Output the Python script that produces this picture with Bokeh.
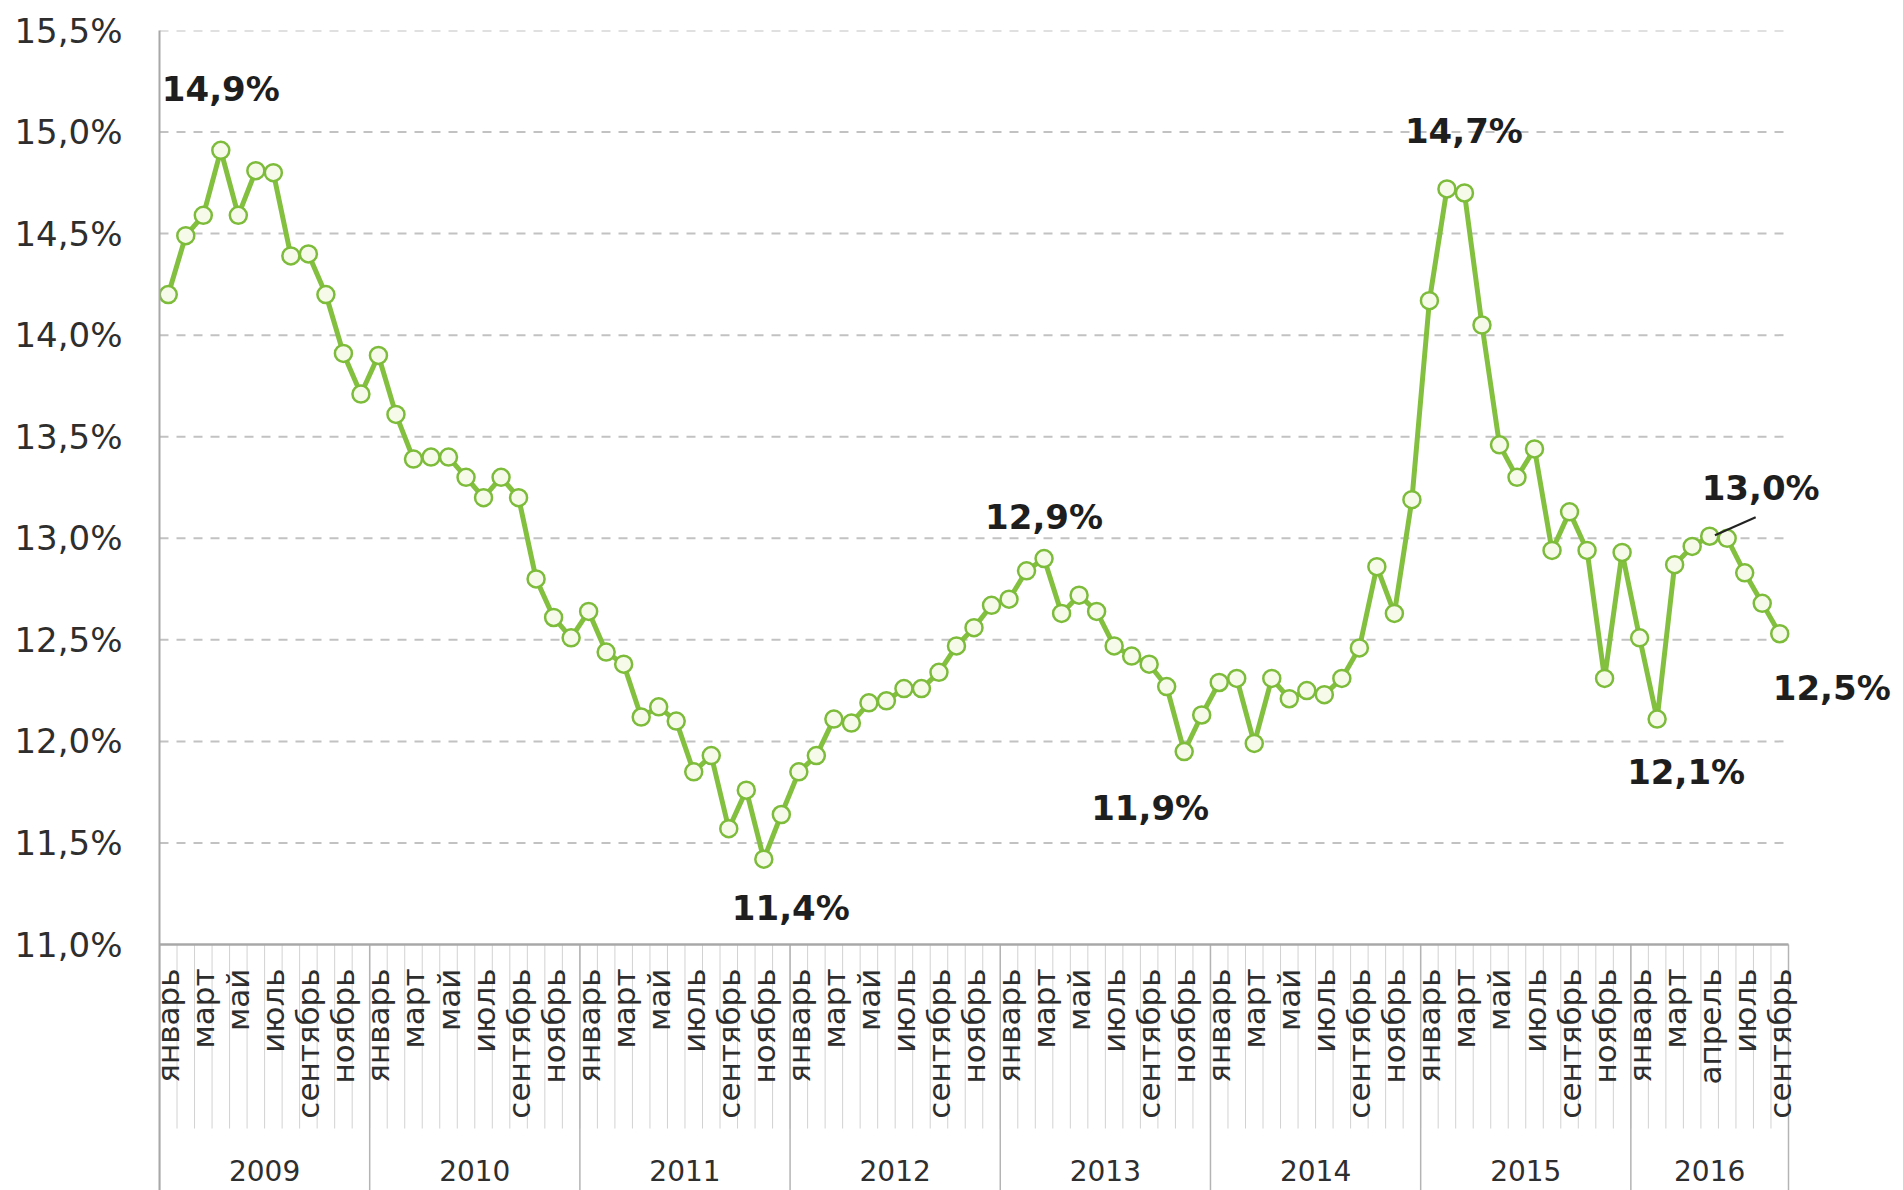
import math
from bokeh.plotting import figure
from bokeh.models import Range1d, FixedTicker, CustomJSTickFormatter, Label
from bokeh.core.properties import value
from bokeh.embed import file_html
from bokeh.resources import INLINE

# ---------------- data ----------------
years = ["2009", "2010", "2011", "2012", "2013", "2014", "2015", "2016"]
months_per_year = [12, 12, 12, 12, 12, 12, 12, 9]

# labels shown under every second month (as printed in the source chart)
month_tick_labels = (["январь", "март", "май", "июль", "сентябрь", "ноябрь"] * 7
                     + ["январь", "март", "апрель", "июль", "сентябрь"])

rate_2009 = [14.20, 14.49, 14.59, 14.91, 14.59, 14.81, 14.80, 14.39, 14.40, 14.20, 13.91, 13.71]
rate_2010 = [13.90, 13.61, 13.39, 13.40, 13.40, 13.30, 13.20, 13.30, 13.20, 12.80, 12.61, 12.51]
rate_2011 = [12.64, 12.44, 12.38, 12.12, 12.17, 12.10, 11.85, 11.93, 11.57, 11.76, 11.42, 11.64]
rate_2012 = [11.85, 11.93, 12.11, 12.09, 12.19, 12.20, 12.26, 12.26, 12.34, 12.47, 12.56, 12.67]
rate_2013 = [12.70, 12.84, 12.90, 12.63, 12.72, 12.64, 12.47, 12.42, 12.38, 12.27, 11.95, 12.13]
rate_2014 = [12.29, 12.31, 11.99, 12.31, 12.21, 12.25, 12.23, 12.31, 12.46, 12.86, 12.63, 13.19]
rate_2015 = [14.17, 14.72, 14.70, 14.05, 13.46, 13.30, 13.44, 12.94, 13.13, 12.94, 12.31, 12.93]
rate_2016 = [12.51, 12.11, 12.87, 12.96, 13.01, 13.00, 12.83, 12.68, 12.53]

y_ticks = [11.0, 11.5, 12.0, 12.5, 13.0, 13.5, 14.0, 14.5, 15.0, 15.5]

annot_index = [3, 34, 50, 58, 73, 85, 88, 92]
annot_text = ["14,9%", "11,4%", "12,9%", "11,9%", "14,7%", "12,1%", "13,0%", "12,5%"]

# ---------------- derived ----------------
values = rate_2009 + rate_2010 + rate_2011 + rate_2012 + rate_2013 + rate_2014 + rate_2015 + rate_2016
n = len(values)
xs = list(range(n))

month_centers = list(range(0, n, 2))
month_bounds = [i - 0.5 for i in range(n + 1)]

year_bounds = [-0.5]
for m in months_per_year:
    year_bounds.append(year_bounds[-1] + m)
year_centers = [(a + b) / 2 for a, b in zip(year_bounds[:-1], year_bounds[1:])]

Y_MIN, Y_MAX = y_ticks[0], y_ticks[-1]

# ---------------- layout / styles (pixels) ----------------
W, H = 1903, 1190
PX_LEFT, PX_RIGHT, PX_TOP, PX_AXIS = 159, 1788, 30, 944
px_cat = (PX_RIGHT - PX_LEFT) / n
px_pct = (PX_AXIS - PX_TOP) / (Y_MAX - Y_MIN)
x_end = -0.5 + (W - PX_LEFT) / px_cat
y_bot = Y_MAX - (H - PX_TOP) / px_pct

GREEN = "#84c03f"
FONT = "DejaVu Sans"
annot_offsets = [(0, 61), (27, -49), (0, 42), (-34, -56), (17, 58), (29, -53), (51, 48), (52, -54)]

p = figure(width=W, height=H, output_backend="svg", toolbar_location=None,
           x_axis_location=None,
           x_range=Range1d(-0.5, x_end), y_range=Range1d(y_bot, Y_MAX),
           min_border_left=PX_LEFT, min_border_right=0, min_border_top=PX_TOP, min_border_bottom=0)
p.outline_line_color = None
p.background_fill_color = "white"
p.border_fill_color = "white"
p.xgrid.visible = False
p.ygrid.visible = False

# y axis
p.yaxis.ticker = FixedTicker(ticks=y_ticks)
p.yaxis.formatter = CustomJSTickFormatter(code="return tick.toFixed(1).replace('.', ',') + '%';")
p.yaxis.major_tick_line_color = None
p.yaxis.minor_tick_line_color = None
p.yaxis.major_tick_out = 0
p.yaxis.major_tick_in = 0
p.yaxis.major_label_standoff = 37
p.yaxis.axis_line_color = "#a8a8a8"
p.yaxis.axis_line_width = 2
p.yaxis.major_label_text_font = FONT
p.yaxis.major_label_text_font_size = "34px"
p.yaxis.major_label_text_color = "#2e2e2e"

# horizontal dashed grid lines (only across the category span)
grid_vals = y_ticks[1:]
p.segment(x0=[-0.5] * len(grid_vals), x1=[n - 0.5] * len(grid_vals), y0=grid_vals, y1=grid_vals,
          line_color="#c2c2c2", line_width=2, line_dash="9 8")

# category axis (drawn below the value range)
p.segment(x0=month_bounds, x1=month_bounds, y0=[Y_MIN] * len(month_bounds),
          y1=[Y_MIN - 184 / px_pct] * len(month_bounds), line_color="#d2d2d2", line_width=1)
p.segment(x0=year_bounds, x1=year_bounds, y0=[Y_MIN] * len(year_bounds),
          y1=[y_bot] * len(year_bounds), line_color="#b4b4b4", line_width=1.5)
p.segment(x0=[-0.5], x1=[n - 0.5], y0=[Y_MIN], y1=[Y_MIN], line_color="#a8a8a8", line_width=2.5)

p.text(x=month_centers, y=[Y_MIN - 24 / px_pct] * len(month_centers), text=month_tick_labels,
       angle=math.pi / 2, text_align="right", text_baseline="middle",
       text_font=value(FONT), text_font_size="31px", text_color="#2e2e2e")
p.text(x=year_centers, y=[Y_MIN - 226 / px_pct] * len(year_centers), text=years,
       text_align="center", text_baseline="middle",
       text_font=value(FONT), text_font_size="28px", text_color="#2e2e2e")

# series
p.line(xs, values, line_color=GREEN, line_width=5)
p.scatter(xs, values, size=17, fill_color="#f5fbe8", line_color="#7dbb3a", line_width=2.5)

# leader line for 13,0%
li = 88
p.segment(x0=[li + 0.3], y0=[values[li] + 0.005], x1=[li + 46 / px_cat], y1=[values[li] + 19 / px_pct],
          line_color="#222222", line_width=2)

for idx, txt, (dx, dy) in zip(annot_index, annot_text, annot_offsets):
    p.add_layout(Label(x=idx, y=values[idx], text=txt, x_offset=dx, y_offset=dy,
                       text_align="center", text_baseline="middle",
                       text_font=FONT, text_font_style="bold", text_font_size="34px",
                       text_color="#1e1e1e"))

open("out.html", "w").write(file_html(p, INLINE))
